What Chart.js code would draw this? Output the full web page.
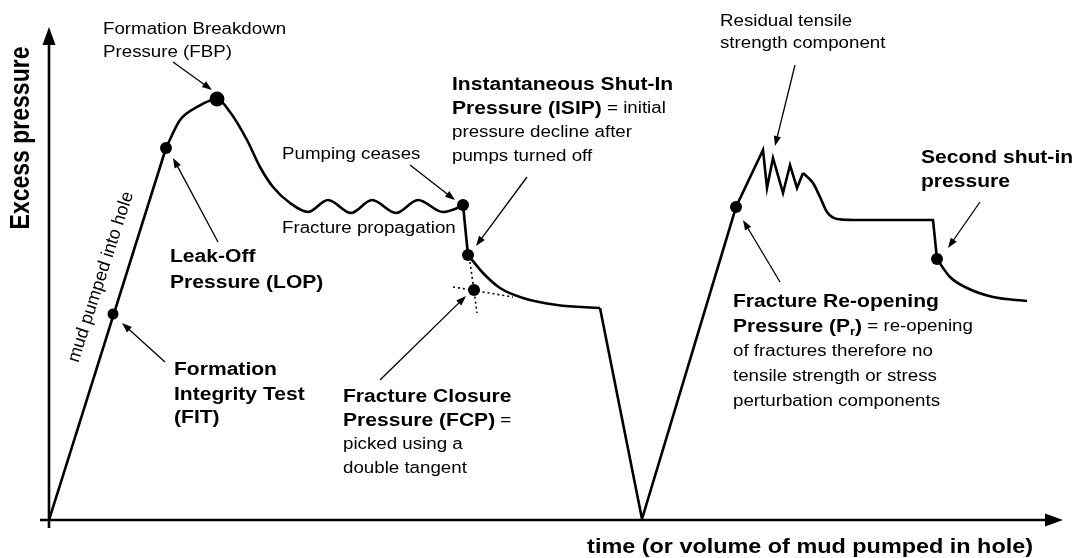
<!DOCTYPE html>
<html>
<head>
<meta charset="utf-8">
<script src="https://cdn.jsdelivr.net/npm/chart.js@4.4.0/dist/chart.umd.min.js"></script>
<style>
  html, body { margin: 0; padding: 0; background: #fff; }
  #wrap { width: 1075px; height: 558px; }
</style>
</head>
<body>
<div id="wrap"><canvas id="leakOff"></canvas></div>
<script>
// leak-off test sketch, time and pressure in arbitrary units
const riseT = [0, 117];
const riseP = [0, 372];
const breakdownT = [117, 131, 148, 168, 181, 198, 211, 224, 241, 259, 279, 302, 323, 347, 369, 394, 406, 414];
const breakdownP = [372, 400, 413, 421, 408, 380, 353, 333, 317, 308, 320, 307, 320, 307, 320, 308, 311, 315];
const shutInT = [414, 419];
const shutInP = [315, 265];
const declineT = [419, 434, 451, 474, 508, 551];
const declineP = [265, 247, 232, 222, 215, 212];
const reopenT = [551, 593, 687, 714, 718, 724, 734, 741, 748, 754];
const reopenP = [212, 1, 313, 370, 332, 362, 327, 355, 332, 347];
const settleT = [754, 764, 771, 778, 788, 804];
const settleP = [347, 337, 323, 308, 301, 300];
const plateauT = [804, 884, 888];
const plateauP = [300, 300, 261];
const secondT = [888, 901, 918, 944, 978];
const secondP = [261, 243, 232, 223, 219];

// picked points: FIT, LOP, FBP, pumps off, ISIP, FCP, Pr, second shut-in
const keyT = [64, 117, 168, 414, 419, 425, 687, 888];
const keyP = [206, 372, 421, 315, 265, 230, 313, 261];
const keySize = [5.5, 6, 7.5, 6, 6, 6, 6, 6];

// double tangent for FCP
const tangentAT = [404, 464];
const tangentAP = [233, 223];
const tangentBT = [421, 428];
const tangentBP = [258, 207];

const FONT = '"Liberation Sans", Arial, Helvetica, sans-serif';
const STRETCH = 1.17;

// [fromT, fromP, toT, toP]
const pointers = [
  [124, 458, 163, 430],
  [169, 278, 124, 362],
  [116, 158, 73, 197],
  [361, 355, 406, 320],
  [478, 343, 427, 274],
  [331, 140, 417, 224],
  [746, 455, 726, 374],
  [931, 318, 899, 272],
  [731, 238, 694, 300]
];

// text blocks: position in chart units, then runs of [text, style]
const notes = [
  [54, 490, [['Formation Breakdown', 'r']]],
  [54, 467, [['Pressure (FBP)', 'r']]],
  [233, 365, [['Pumping ceases', 'r']]],
  [233, 291, [['Fracture propagation', 'r']]],
  [121, 263, [['Leak-Off', 'b']]],
  [121, 237, [['Pressure (LOP)', 'b']]],
  [125, 150, [['Formation', 'b']]],
  [125, 125, [['Integrity Test', 'b']]],
  [125, 102, [['(FIT)', 'b']]],
  [403, 435, [['Instantaneous Shut-In', 'b']]],
  [403, 411, [['Pressure (ISIP)', 'b'], [' = initial', 'r']]],
  [403, 387, [['pressure decline after', 'r']]],
  [403, 363, [['pumps turned off', 'r']]],
  [671, 498, [['Residual tensile', 'r']]],
  [671, 476, [['strength component', 'r']]],
  [872, 362, [['Second shut-in', 'b']]],
  [872, 338, [['pressure', 'b']]],
  [684, 218, [['Fracture Re-opening', 'b']]],
  [684, 193, [['Pressure (P', 'b'], ['r', 'sub'], [')', 'b'], [' = re-opening', 'r']]],
  [684, 168, [['of fractures therefore no', 'r']]],
  [684, 143, [['tensile strength or stress', 'r']]],
  [684, 118, [['perturbation components', 'r']]],
  [294, 123, [['Fracture Closure', 'b']]],
  [294, 99, [['Pressure (FCP)', 'b'], [' =', 'r']]],
  [294, 75, [['picked using a', 'r']]],
  [294, 51, [['double tangent', 'r']]]
];

function seg(ts, ps, smooth) {
  return {
    data: ts.map((t, i) => ({ x: t, y: ps[i] })),
    borderColor: '#000',
    borderWidth: 2.6,
    pointRadius: 0,
    tension: smooth ? 0.4 : 0,
    cubicInterpolationMode: smooth ? 'monotone' : 'default',
    fill: false
  };
}

function dotted(ts, ps) {
  const d = seg(ts, ps, false);
  d.borderWidth = 1.6;
  d.borderDash = [2, 3];
  return d;
}

function drawArrow(ctx, x1, y1, x2, y2) {
  const a = Math.atan2(y2 - y1, x2 - x1);
  const head = 10, half = 3.6;
  ctx.beginPath();
  ctx.moveTo(x1, y1);
  ctx.lineTo(x2 - Math.cos(a) * head * 0.7, y2 - Math.sin(a) * head * 0.7);
  ctx.stroke();
  ctx.beginPath();
  ctx.moveTo(x2, y2);
  ctx.lineTo(x2 - Math.cos(a) * head - Math.sin(a) * half, y2 - Math.sin(a) * head + Math.cos(a) * half);
  ctx.lineTo(x2 - Math.cos(a) * head + Math.sin(a) * half, y2 - Math.sin(a) * head - Math.cos(a) * half);
  ctx.closePath();
  ctx.fill();
}

function drawRuns(ctx, x, y, runs) {
  ctx.save();
  ctx.translate(x, y);
  ctx.scale(STRETCH, 1);
  ctx.textBaseline = 'middle';
  ctx.textAlign = 'left';
  let cx = 0;
  runs.forEach(([txt, style]) => {
    let dy = 0;
    if (style === 'b') ctx.font = 'bold 18px ' + FONT;
    else if (style === 'sub') { ctx.font = 'bold 11px ' + FONT; dy = 5; }
    else ctx.font = '16px ' + FONT;
    ctx.fillText(txt, cx, dy);
    cx += ctx.measureText(txt).width;
  });
  ctx.restore();
}

const sketchPlugin = {
  id: 'sketch',
  afterDatasetsDraw(chart) {
    const ctx = chart.ctx;
    const area = chart.chartArea;
    const xs = chart.scales.x, ys = chart.scales.y;
    ctx.save();
    ctx.fillStyle = '#000';
    ctx.strokeStyle = '#000';

    // axes with arrow heads
    ctx.lineWidth = 2.6;
    ctx.beginPath();
    ctx.moveTo(area.left, area.bottom + 8);
    ctx.lineTo(area.left, area.top + 14);
    ctx.moveTo(area.left - 9, area.bottom);
    ctx.lineTo(area.right - 14, area.bottom);
    ctx.stroke();
    ctx.beginPath();
    ctx.moveTo(area.left, area.top);
    ctx.lineTo(area.left - 6.5, area.top + 18);
    ctx.lineTo(area.left + 6.5, area.top + 18);
    ctx.closePath();
    ctx.fill();
    ctx.beginPath();
    ctx.moveTo(area.right, area.bottom);
    ctx.lineTo(area.right - 18, area.bottom - 6.5);
    ctx.lineTo(area.right - 18, area.bottom + 6.5);
    ctx.closePath();
    ctx.fill();

    // pointer arrows
    ctx.lineWidth = 1.3;
    pointers.forEach(p => {
      drawArrow(ctx, xs.getPixelForValue(p[0]), ys.getPixelForValue(p[1]),
        xs.getPixelForValue(p[2]), ys.getPixelForValue(p[3]));
    });

    // annotations
    notes.forEach(n => drawRuns(ctx, xs.getPixelForValue(n[0]), ys.getPixelForValue(n[1]), n[2]));

    // text along the first pumping line
    ctx.save();
    ctx.translate(xs.getPixelForValue(52), ys.getPixelForValue(243));
    ctx.rotate(-72 * Math.PI / 180);
    ctx.font = '18px ' + FONT;
    ctx.textAlign = 'center';
    ctx.textBaseline = 'middle';
    ctx.fillText('mud pumped into hole', 0, 0);
    ctx.restore();

    // axis titles
    ctx.save();
    ctx.translate(22, 138);
    ctx.rotate(-Math.PI / 2);
    ctx.scale(1, STRETCH);
    ctx.font = 'bold 23px ' + FONT;
    ctx.textAlign = 'center';
    ctx.textBaseline = 'middle';
    ctx.fillText('Excess pressure', 0, 0);
    ctx.restore();

    ctx.save();
    ctx.translate(1033, 547);
    ctx.scale(STRETCH, 1);
    ctx.font = 'bold 20px ' + FONT;
    ctx.textAlign = 'right';
    ctx.textBaseline = 'middle';
    ctx.fillText('time (or volume of mud pumped in hole)', 0, 0);
    ctx.restore();

    ctx.restore();
  }
};

new Chart(document.getElementById('leakOff'), {
  type: 'line',
  data: {
    datasets: [
      seg(riseT, riseP, false),
      seg(breakdownT, breakdownP, true),
      seg(shutInT, shutInP, false),
      seg(declineT, declineP, true),
      seg(reopenT, reopenP, false),
      seg(settleT, settleP, true),
      seg(plateauT, plateauP, false),
      seg(secondT, secondP, true),
      dotted(tangentAT, tangentAP),
      dotted(tangentBT, tangentBP),
      {
        data: keyT.map((t, i) => ({ x: t, y: keyP[i] })),
        showLine: false,
        pointRadius: keySize,
        pointBackgroundColor: '#000',
        pointBorderColor: '#000',
        pointBorderWidth: 0
      }
    ]
  },
  options: {
    responsive: true,
    maintainAspectRatio: false,
    animation: false,
    layout: { padding: { left: 49, right: 12, top: 27, bottom: 38 } },
    plugins: { legend: { display: false }, tooltip: { enabled: false } },
    scales: {
      x: { type: 'linear', min: 0, max: 1014, display: false },
      y: { type: 'linear', min: 0, max: 493, display: false }
    }
  },
  plugins: [sketchPlugin]
});
</script>
</body>
</html>
